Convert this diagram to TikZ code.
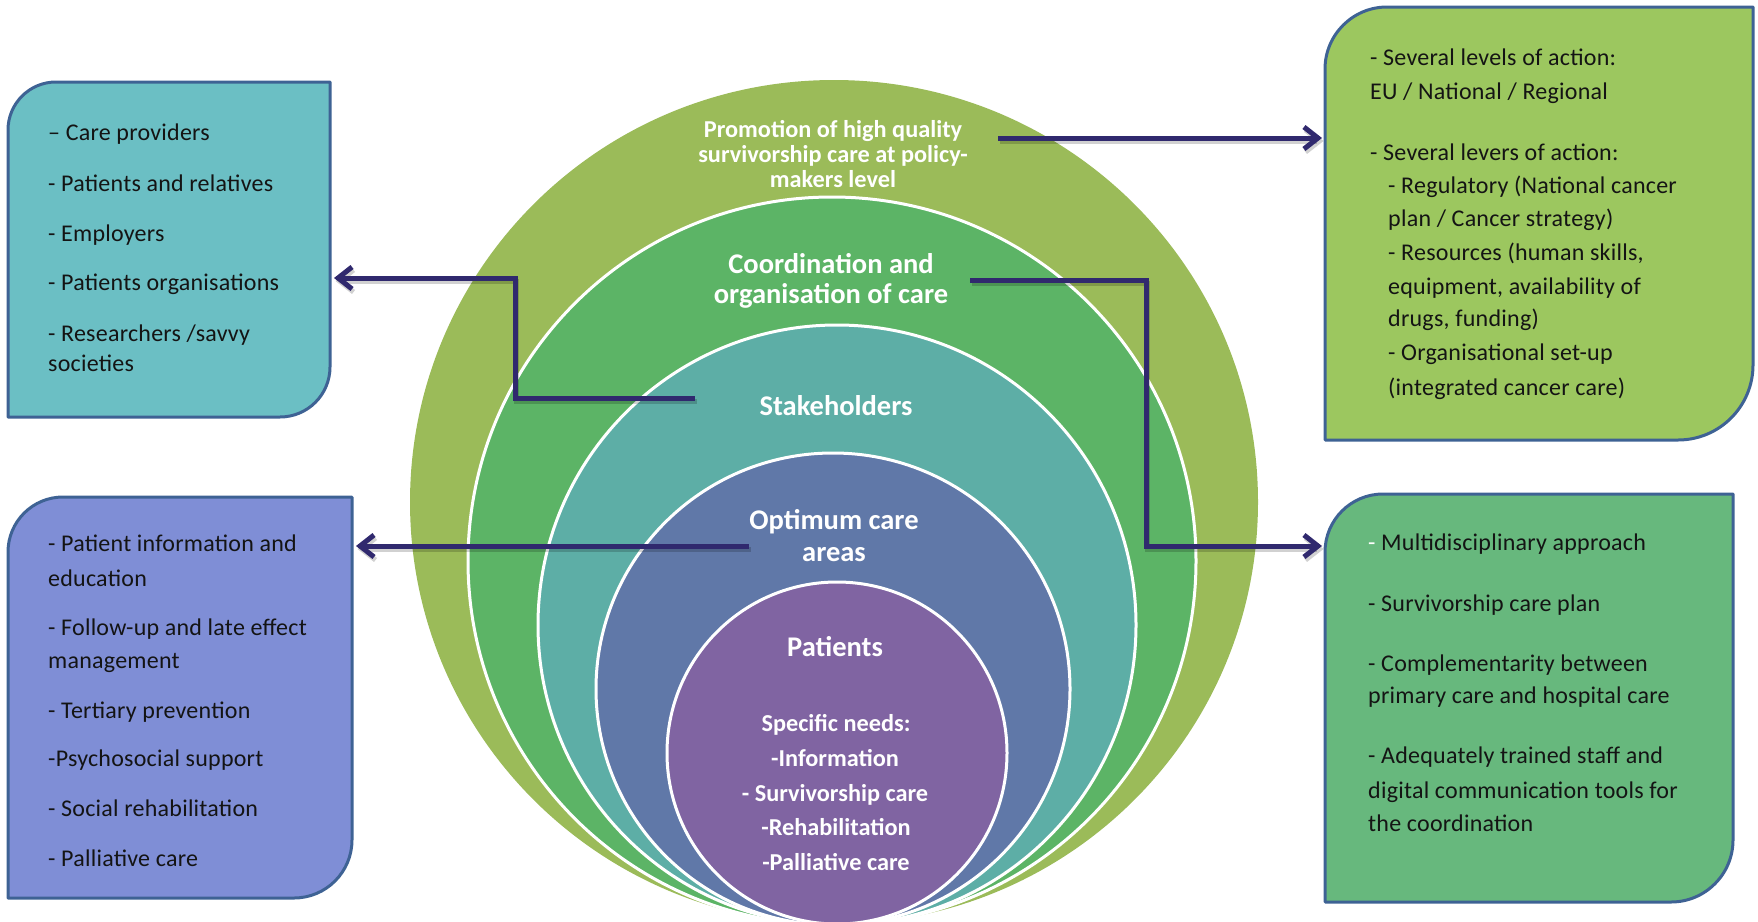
\documentclass[tikz,border=0pt]{standalone}
\usepackage{fontspec}
\setmainfont{Carlito}
\newfontfamily\boxfont[LetterSpace=1.0]{Carlito}
\usetikzlibrary{arrows.meta}
\definecolor{cOlive}{HTML}{9BBB59}
\definecolor{cGreen}{HTML}{5CB466}
\definecolor{cTeal}{HTML}{5DAEA6}
\definecolor{cBlue}{HTML}{6078A8}
\definecolor{cPurple}{HTML}{8064A2}
\definecolor{cBoxA}{HTML}{6BBFC4}
\definecolor{cBoxB}{HTML}{7F8ED6}
\definecolor{cBoxC}{HTML}{9CC75F}
\definecolor{cBoxD}{HTML}{67B87D}
\definecolor{cBorder}{HTML}{3E6294}
\definecolor{cNavy}{HTML}{30296E}
\definecolor{cText}{HTML}{141414}
\begin{document}
\begin{tikzpicture}[x=1pt,y=-1pt,
  ring/.style={draw=white, line width=3pt},
  boxline/.style={draw=cBorder, line width=3pt, line join=round},
  bt/.style={anchor=west, inner sep=0pt, font=\boxfont\fontsize{24}{28}\selectfont, text=cText, text height=0.65em, text depth=0.2em},
  lbls/.style={inner sep=0pt, text=white, font=\bfseries\fontsize{24.3}{26}\selectfont, text height=0.7em, text depth=0.2em},
  lblb/.style={inner sep=0pt, text=white, font=\bfseries\fontsize{28.5}{30}\selectfont, text height=0.7em, text depth=0.2em},
  conn/.style={draw=cNavy, line width=5pt, -{Straight Barb[length=14pt,width=22pt]}},
  connshadow/.style={draw=black, opacity=0.18, line width=5pt, -{Straight Barb[length=14pt,width=22pt]}, transform canvas={shift={(1.5pt,-3pt)}}}
]
\useasboundingbox (0,0) rectangle (1758,921);
\clip (0,0) rectangle (1758,921);

% concentric ellipses
\fill[cOlive] (834,502) ellipse [x radius=424, y radius=422];
\filldraw[ring, fill=cGreen] (832,561) ellipse [x radius=364, y radius=364];
\filldraw[ring, fill=cTeal] (837,625) ellipse [x radius=299, y radius=300];
\filldraw[ring, fill=cBlue] (833,689) ellipse [x radius=237, y radius=236];
\filldraw[ring, fill=cPurple] (837,753) ellipse [x radius=170, y radius=171];

% boxes
\path[boxline, fill=cBoxA] (8,130) arc[start angle=180, end angle=270, radius=48] -- (330,82) -- (330,367) arc[start angle=0, end angle=90, radius=50] -- (8,417) -- cycle;
\path[boxline, fill=cBoxB] (8,552) arc[start angle=180, end angle=270, radius=55] -- (352,497) -- (352,840) arc[start angle=0, end angle=90, radius=58] -- (8,898) -- cycle;
\path[boxline, fill=cBoxC] (1325,69) arc[start angle=180, end angle=270, radius=62] -- (1753,7) -- (1753,365) arc[start angle=0, end angle=90, radius=75] -- (1325,440) -- cycle;
\path[boxline, fill=cBoxD] (1325,552) arc[start angle=180, end angle=270, radius=58] -- (1733,494) -- (1733,840) arc[start angle=0, end angle=90, radius=62] -- (1325,902) -- cycle;

% ellipse labels
\node[lbls] (pr1) at (833,135) {Promotion of high quality};
\node[lbls] (pr2) at (833,160) {survivorship care at policy-};
\node[lbls] (pr3) at (833,185) {makers level};
\node[lblb] (co1) at (831,271) {Coordination and};
\node[lblb] (co2) at (831,301) {organisation of care};
\node[lblb] (st) at (836,413) {Stakeholders};
\node[lblb] (op1) at (834,527) {Optimum care};
\node[lblb] (op2) at (834,559) {areas};
\node[lblb] (pa) at (835,654) {Patients};
\node[lbls] (sn0) at (836,729) {Specific needs:};
\node[lbls] (sn1) at (835,764) {-Information};
\node[lbls] (sn2) at (835,799) {- Survivorship care};
\node[lbls] (sn3) at (836,833) {-Rehabilitation};
\node[lbls] (sn4) at (836,868) {-Palliative care};

% box 1 text
\node[bt] (a1) at (48,138) {– Care providers};
\node[bt] (a2) at (48,189) {- Patients and relatives};
\node[bt] (a3) at (48,239) {- Employers};
\node[bt] (a4) at (48,288) {- Patients organisations};
\node[bt] (a5) at (48,339) {- Researchers /savvy};
\node[bt] (a6) at (48,369) {societies};

% box 2 text
\node[bt] (b1) at (48,549) {- Patient information and};
\node[bt] (b2) at (48,584) {education};
\node[bt] (b3) at (48,633) {- Follow-up and late effect};
\node[bt] (b4) at (48,666) {management};
\node[bt] (b5) at (48,716) {- Tertiary prevention};
\node[bt] (b6) at (48,764) {-Psychosocial support};
\node[bt] (b7) at (48,814) {- Social rehabilitation};
\node[bt] (b8) at (48,864) {- Palliative care};

% box 3 text
\node[bt] (c1) at (1370,63) {- Several levels of action:};
\node[bt] (c2) at (1370,97) {EU / National / Regional};
\node[bt] (c3) at (1370,158) {- Several levers of action:};
\node[bt] (c4) at (1388,191) {- Regulatory (National cancer};
\node[bt] (c5) at (1388,224) {plan / Cancer strategy)};
\node[bt] (c6) at (1388,258) {- Resources (human skills,};
\node[bt] (c7) at (1388,292) {equipment, availability of};
\node[bt] (c8) at (1388,324) {drugs, funding)};
\node[bt] (c9) at (1388,358) {- Organisational set-up};
\node[bt] (c10) at (1388,393) {(integrated cancer care)};

% box 4 text
\node[bt] (d1) at (1368,548) {\textcolor{white}{-} Multidisciplinary approach};
\node[bt] (d2) at (1368,609) {- Survivorship care plan};
\node[bt] (d3) at (1368,669) {- Complementarity between};
\node[bt] (d4) at (1368,701) {primary care and hospital care};
\node[bt] (d5) at (1368,761) {- Adequately trained staff and};
\node[bt] (d6) at (1368,796) {digital communication tools for};
\node[bt] (d7) at (1368,829) {the coordination};

% connector anchors
\coordinate (pA) at (998,138);
\coordinate (boxCin) at (1322,138);
\coordinate (sA) at (695,398);
\coordinate (boxAin) at (334,278);
\coordinate (cA) at (970,280);
\coordinate (boxDin) at (1322,546);
\coordinate (oA) at (749,546);
\coordinate (boxBin) at (356,546);

% shadows
\draw[connshadow] (pA) -- (boxCin);
\draw[connshadow] (sA) -- (515,398) |- (boxAin);
\draw[connshadow] (cA) -- (1146,280) |- (boxDin);
\draw[connshadow] (oA) -- (boxBin);
% connectors
\draw[conn] (pA) -- (boxCin);
\draw[conn] (sA) -- (515,398) |- (boxAin);
\draw[conn] (cA) -- (1146,280) |- (boxDin);
\draw[conn] (oA) -- (boxBin);
\end{tikzpicture}
\end{document}
